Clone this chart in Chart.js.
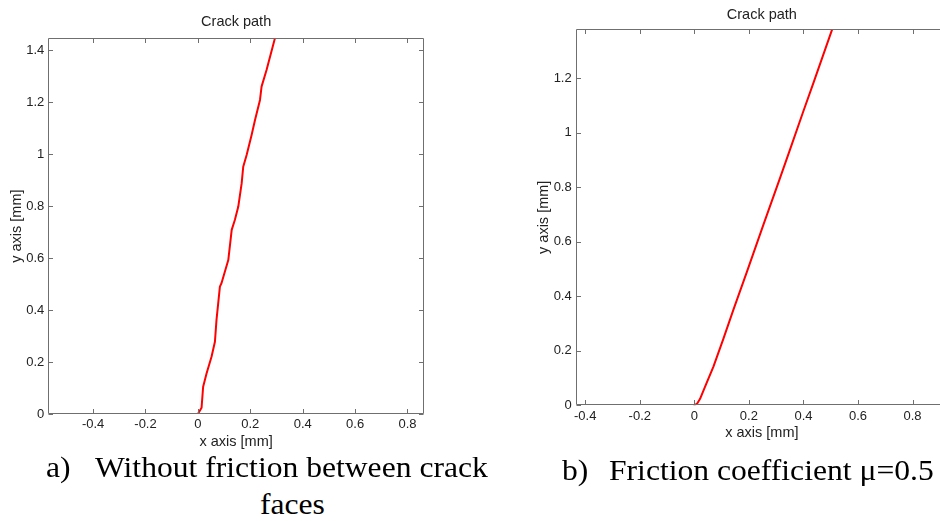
<!DOCTYPE html>
<html><head><meta charset="utf-8">
<script src="https://cdn.jsdelivr.net/npm/chart.js@4/dist/chart.umd.min.js"></script>
<style>
html,body{margin:0;padding:0;background:#fff;width:940px;height:521px;overflow:hidden;position:relative}
canvas{position:absolute;top:0}
#c1{left:0}
#c2{left:500px}
.cap{position:absolute;font-family:"Liberation Serif","Times New Roman",serif;font-size:29px;line-height:29px;color:#000;white-space:nowrap;transform-origin:left top;transform:scaleX(1.09)}
</style></head><body>
<canvas id="c1" width="440" height="460"></canvas>
<canvas id="c2" width="450" height="460"></canvas>
<div class="cap" style="left:46px;top:453px">a)</div>
<div class="cap" style="left:95px;top:453px">Without friction between crack</div>
<div class="cap" style="left:260px;top:490px">faces</div>
<div class="cap" style="left:562px;top:456px">b)</div>
<div class="cap" style="left:609px;top:456px">Friction coefficient μ=0.5</div>
<script>
// ---- data (mm) ----
const leftX  = [0, 0.014, 0.020, 0.033, 0.052, 0.065, 0.071, 0.084, 0.090, 0.116, 0.129, 0.141, 0.154, 0.167, 0.173, 0.186, 0.205, 0.218, 0.237, 0.243, 0.262, 0.294];
const leftY  = [0, 0.024, 0.105, 0.156, 0.220, 0.278, 0.362, 0.490, 0.503, 0.592, 0.708, 0.746, 0.797, 0.887, 0.951, 0.996, 1.073, 1.131, 1.208, 1.259, 1.323, 1.445];
const rightX = [0, 0.010, 0.021, 0.039, 0.070, 0.106, 0.143, 0.192, 0.253, 0.314, 0.351, 0.400, 0.437, 0.504, 0.512];
const rightY = [0, 0.006, 0.024, 0.068, 0.142, 0.243, 0.350, 0.488, 0.662, 0.834, 0.939, 1.080, 1.184, 1.376, 1.400];
const leftXTicks  = [-0.4, -0.2, 0, 0.2, 0.4, 0.6, 0.8];
const leftYTicks  = [0, 0.2, 0.4, 0.6, 0.8, 1, 1.2, 1.4];
const rightXTicks = [-0.4, -0.2, 0, 0.2, 0.4, 0.6, 0.8];
const rightYTicks = [0, 0.2, 0.4, 0.6, 0.8, 1, 1.2];
const titleText = 'Crack path';
const xTitle = 'x axis [mm]';
const yTitle = 'y axis [mm]';

const FRAME = '#6f6f6f';
const TXT = '#222222';
const SANS = '"Liberation Sans", Arial, sans-serif';

const framePlugin = {
  id: 'frame',
  afterDatasetsDraw(chart) {
    const {ctx, chartArea: {left, right, top, bottom}, scales: {x, y}} = chart;
    ctx.save();
    ctx.strokeStyle = FRAME; ctx.lineWidth = 1;
    const L = Math.round(left) + 0.5, R = Math.round(right) - 0.5, T = Math.round(top) + 0.5, B = Math.round(bottom) - 0.5;
    ctx.beginPath();
    ctx.moveTo(L, T); ctx.lineTo(R, T); ctx.lineTo(R, B); ctx.lineTo(L, B); ctx.closePath();
    const tl = 4.5;
    x.ticks.forEach(t => { const p = Math.round(x.getPixelForValue(t.value)) + 0.5; ctx.moveTo(p, B); ctx.lineTo(p, B - tl); ctx.moveTo(p, T); ctx.lineTo(p, T + tl); });
    y.ticks.forEach(t => { const p = Math.round(y.getPixelForValue(t.value)) + 0.5; ctx.moveTo(L, p); ctx.lineTo(L + tl, p); ctx.moveTo(R, p); ctx.lineTo(R - tl, p); });
    ctx.stroke();
    ctx.restore();
  }
};

function fmt(v) { return String(Number(Number(v).toFixed(1))); }

function makeChart(id, xs, ys, cfg) {
  const pts = xs.map((v, i) => ({x: v, y: ys[i]}));
  return new Chart(document.getElementById(id), {
    type: 'scatter',
    data: { datasets: [{ data: pts, showLine: true, borderColor: '#ff0000', borderWidth: 2, pointRadius: 0, tension: 0, fill: false, borderJoinStyle: 'round', borderCapStyle: 'round' }] },
    options: {
      responsive: false, animation: false, events: [],
      layout: { padding: { left: 0, right: cfg.padRight, top: 0, bottom: 0 } },
      plugins: {
        legend: { display: false }, tooltip: { enabled: false },
        title: { display: true, text: titleText, fullSize: false, color: TXT, font: { family: SANS, size: 14.5, weight: 'normal' }, padding: cfg.titlePad }
      },
      scales: {
        x: {
          type: 'linear', min: cfg.xmin, max: cfg.xmax,
          grid: { display: false, drawTicks: false }, border: { display: false },
          afterBuildTicks: s => { s.ticks = cfg.xTicks.map(v => ({value: v})); },
          afterFit: s => { s.height = cfg.xH; },
          ticks: { color: TXT, font: { family: SANS, size: 13 }, padding: 3, maxRotation: 0, autoSkip: false, callback: v => fmt(v) },
          title: { display: true, text: xTitle, color: TXT, font: { family: SANS, size: 14.5 }, padding: { top: 0, bottom: cfg.xTitleBottom } }
        },
        y: {
          type: 'linear', min: 0, max: cfg.ymax,
          grid: { display: false, drawTicks: false }, border: { display: false },
          afterBuildTicks: s => { s.ticks = cfg.yTicks.map(v => ({value: v})); },
          afterFit: s => { s.width = cfg.yW; },
          ticks: { color: TXT, font: { family: SANS, size: 13 }, padding: 4, autoSkip: false, callback: v => fmt(v) },
          title: { display: true, text: yTitle, color: TXT, font: { family: SANS, size: 14.5 }, padding: { top: cfg.yTitleLeft, bottom: 0 } }
        }
      }
    },
    plugins: [framePlugin]
  });
}

makeChart('c1', leftX, leftY, {
  xmin: -0.571, xmax: 0.863, ymax: 1.445,
  xTicks: leftXTicks, yTicks: leftYTicks,
  padRight: 16, yW: 48.3, xH: 46,
  titlePad: { top: 13.3, bottom: 7.6 },
  xTitleBottom: 9.3, yTitleLeft: 8.3
});

makeChart('c2', rightX, rightY, {
  xmin: -0.435, xmax: 0.93, ymax: 1.38,
  xTicks: rightXTicks, yTicks: rightYTicks,
  padRight: 2, yW: 75.7, xH: 54.7,
  titlePad: { top: 6.3, bottom: 5.6 },
  xTitleBottom: 18, yTitleLeft: 35.3
});
</script>
</body></html>
